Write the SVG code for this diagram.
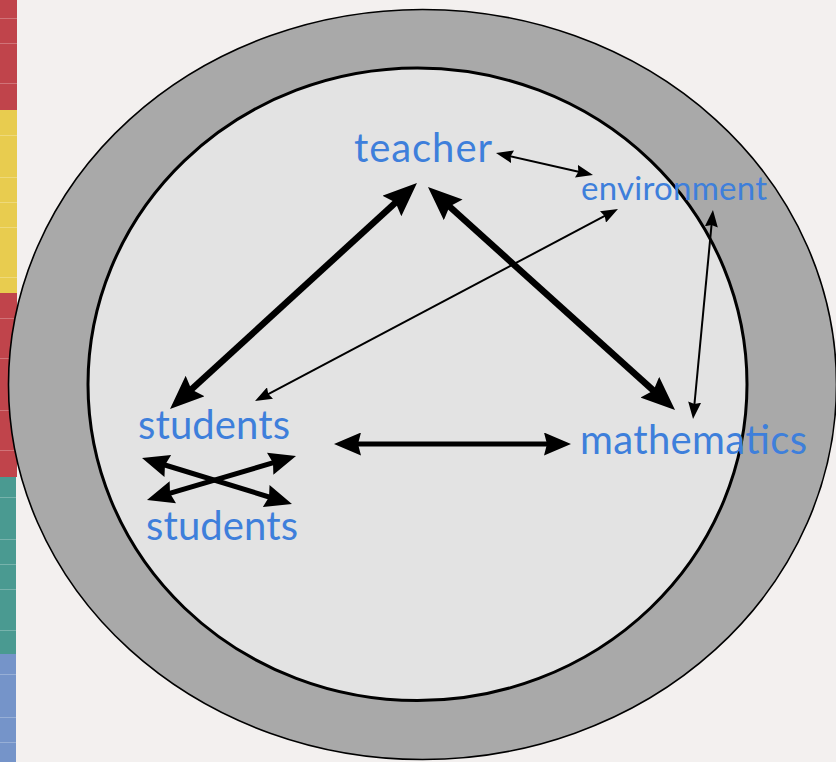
<svg xmlns="http://www.w3.org/2000/svg" width="836" height="762" viewBox="0 0 836 762">
  <style>
    .lbl { font-family: Lato, "Liberation Sans", sans-serif; fill: #3e7fdb; }
    .sep { stroke: #ffffff; stroke-opacity: 0.25; stroke-width: 1; }
    .thick { stroke: #000; stroke-width: 6.5; fill: none; marker-start: url(#big); marker-end: url(#big); }
    .mid { stroke: #000; stroke-width: 5; fill: none; marker-start: url(#mid); marker-end: url(#mid); }
    .thin { stroke: #000; stroke-width: 2; fill: none; marker-start: url(#small); marker-end: url(#small); }
  </style>
  <defs>
    <marker id="big" markerUnits="userSpaceOnUse" viewBox="0 0 34 28" markerWidth="34" markerHeight="28" refX="19" refY="14" orient="auto-start-reverse">
      <path d="M0,0 L34,14 L0,28 L5,14 z" fill="#000"/>
    </marker>
    <marker id="mid" markerUnits="userSpaceOnUse" viewBox="0 0 27 23" markerWidth="27" markerHeight="23" refX="15" refY="11.5" orient="auto-start-reverse">
      <path d="M0,0 L27,11.5 L0,23 L3,11.5 z" fill="#000"/>
    </marker>
    <marker id="small" markerUnits="userSpaceOnUse" viewBox="0 0 17 13" markerWidth="17" markerHeight="13" refX="9" refY="6.5" orient="auto-start-reverse">
      <path d="M0,0 L17,6.5 L0,13 L2,6.5 z" fill="#000"/>
    </marker>
  </defs>

  <rect x="0" y="0" width="836" height="762" fill="#f3f0ef"/>

  <g id="sidebar">
    <rect x="0" y="0" width="17" height="110" fill="#c0444b"/>
    <rect x="0" y="110" width="17" height="183" fill="#e8cc4f"/>
    <rect x="0" y="293" width="17" height="184" fill="#c0444b"/>
    <rect x="0" y="477" width="16" height="177" fill="#4a9a91"/>
    <rect x="0" y="654" width="16" height="108" fill="#7594c9"/>
    <g class="sep">
      <line x1="0" y1="18.5" x2="17" y2="18.5"/>
      <line x1="0" y1="43.5" x2="17" y2="43.5"/>
      <line x1="0" y1="83.5" x2="17" y2="83.5"/>
      <line x1="0" y1="135.5" x2="17" y2="135.5"/>
      <line x1="0" y1="177.5" x2="17" y2="177.5"/>
      <line x1="0" y1="202.5" x2="17" y2="202.5"/>
      <line x1="0" y1="227.5" x2="17" y2="227.5"/>
      <line x1="0" y1="277.5" x2="17" y2="277.5"/>
      <line x1="0" y1="318.5" x2="17" y2="318.5"/>
      <line x1="0" y1="358.5" x2="17" y2="358.5"/>
      <line x1="0" y1="410.5" x2="17" y2="410.5"/>
      <line x1="0" y1="450.5" x2="17" y2="450.5"/>
      <line x1="0" y1="497.5" x2="16" y2="497.5"/>
      <line x1="0" y1="539.5" x2="16" y2="539.5"/>
      <line x1="0" y1="564.5" x2="16" y2="564.5"/>
      <line x1="0" y1="589.5" x2="16" y2="589.5"/>
      <line x1="0" y1="630.5" x2="16" y2="630.5"/>
      <line x1="0" y1="674.5" x2="16" y2="674.5"/>
      <line x1="0" y1="717.5" x2="16" y2="717.5"/>
      <line x1="0" y1="742.5" x2="16" y2="742.5"/>
    </g>
  </g>

  <g id="outer-ring">
    <ellipse cx="422.5" cy="384.5" rx="414" ry="375" fill="#a9a9a9" stroke="#000" stroke-width="1.6"/>
  </g>
  <g id="inner-circle">
    <ellipse cx="417.5" cy="384.3" rx="329.5" ry="316.3" fill="#e3e3e3" stroke="#000" stroke-width="3"/>
  </g>

  <g id="teacher">
    <text class="lbl" x="354" y="162" font-size="40" textLength="138">teacher</text>
  </g>
  <g id="environment">
    <text class="lbl" x="581" y="200" font-size="33" textLength="186">environment</text>
  </g>
  <g id="students-top">
    <text class="lbl" x="138" y="439" font-size="40" textLength="152">students</text>
  </g>
  <g id="students-bottom">
    <text class="lbl" x="146" y="540" font-size="40" textLength="152">students</text>
  </g>
  <g id="mathematics">
    <text class="lbl" x="580" y="454" font-size="40" textLength="227">mathematics</text>
  </g>

  <g id="connectors">
    <line class="thick" x1="181.1" y1="398.9" x2="405.9" y2="193.1"/>
    <line class="thick" x1="439.1" y1="197.1" x2="663.9" y2="400.0"/>
    <line class="mid" x1="346" y1="444" x2="559" y2="444" stroke-width="4.5"/>
    <line class="mid" x1="153.5" y1="461.5" x2="280.5" y2="500.5"/>
    <line class="mid" x1="158.5" y1="496.6" x2="284.5" y2="459.4"/>
    <line class="thin" x1="262.1" y1="397.3" x2="610.9" y2="212.7"/>
    <line class="thin" x1="503.8" y1="154.8" x2="585.2" y2="173.2"/>
    <line class="thin" x1="712.2" y1="218" x2="693.8" y2="411"/>
  </g>
</svg>
